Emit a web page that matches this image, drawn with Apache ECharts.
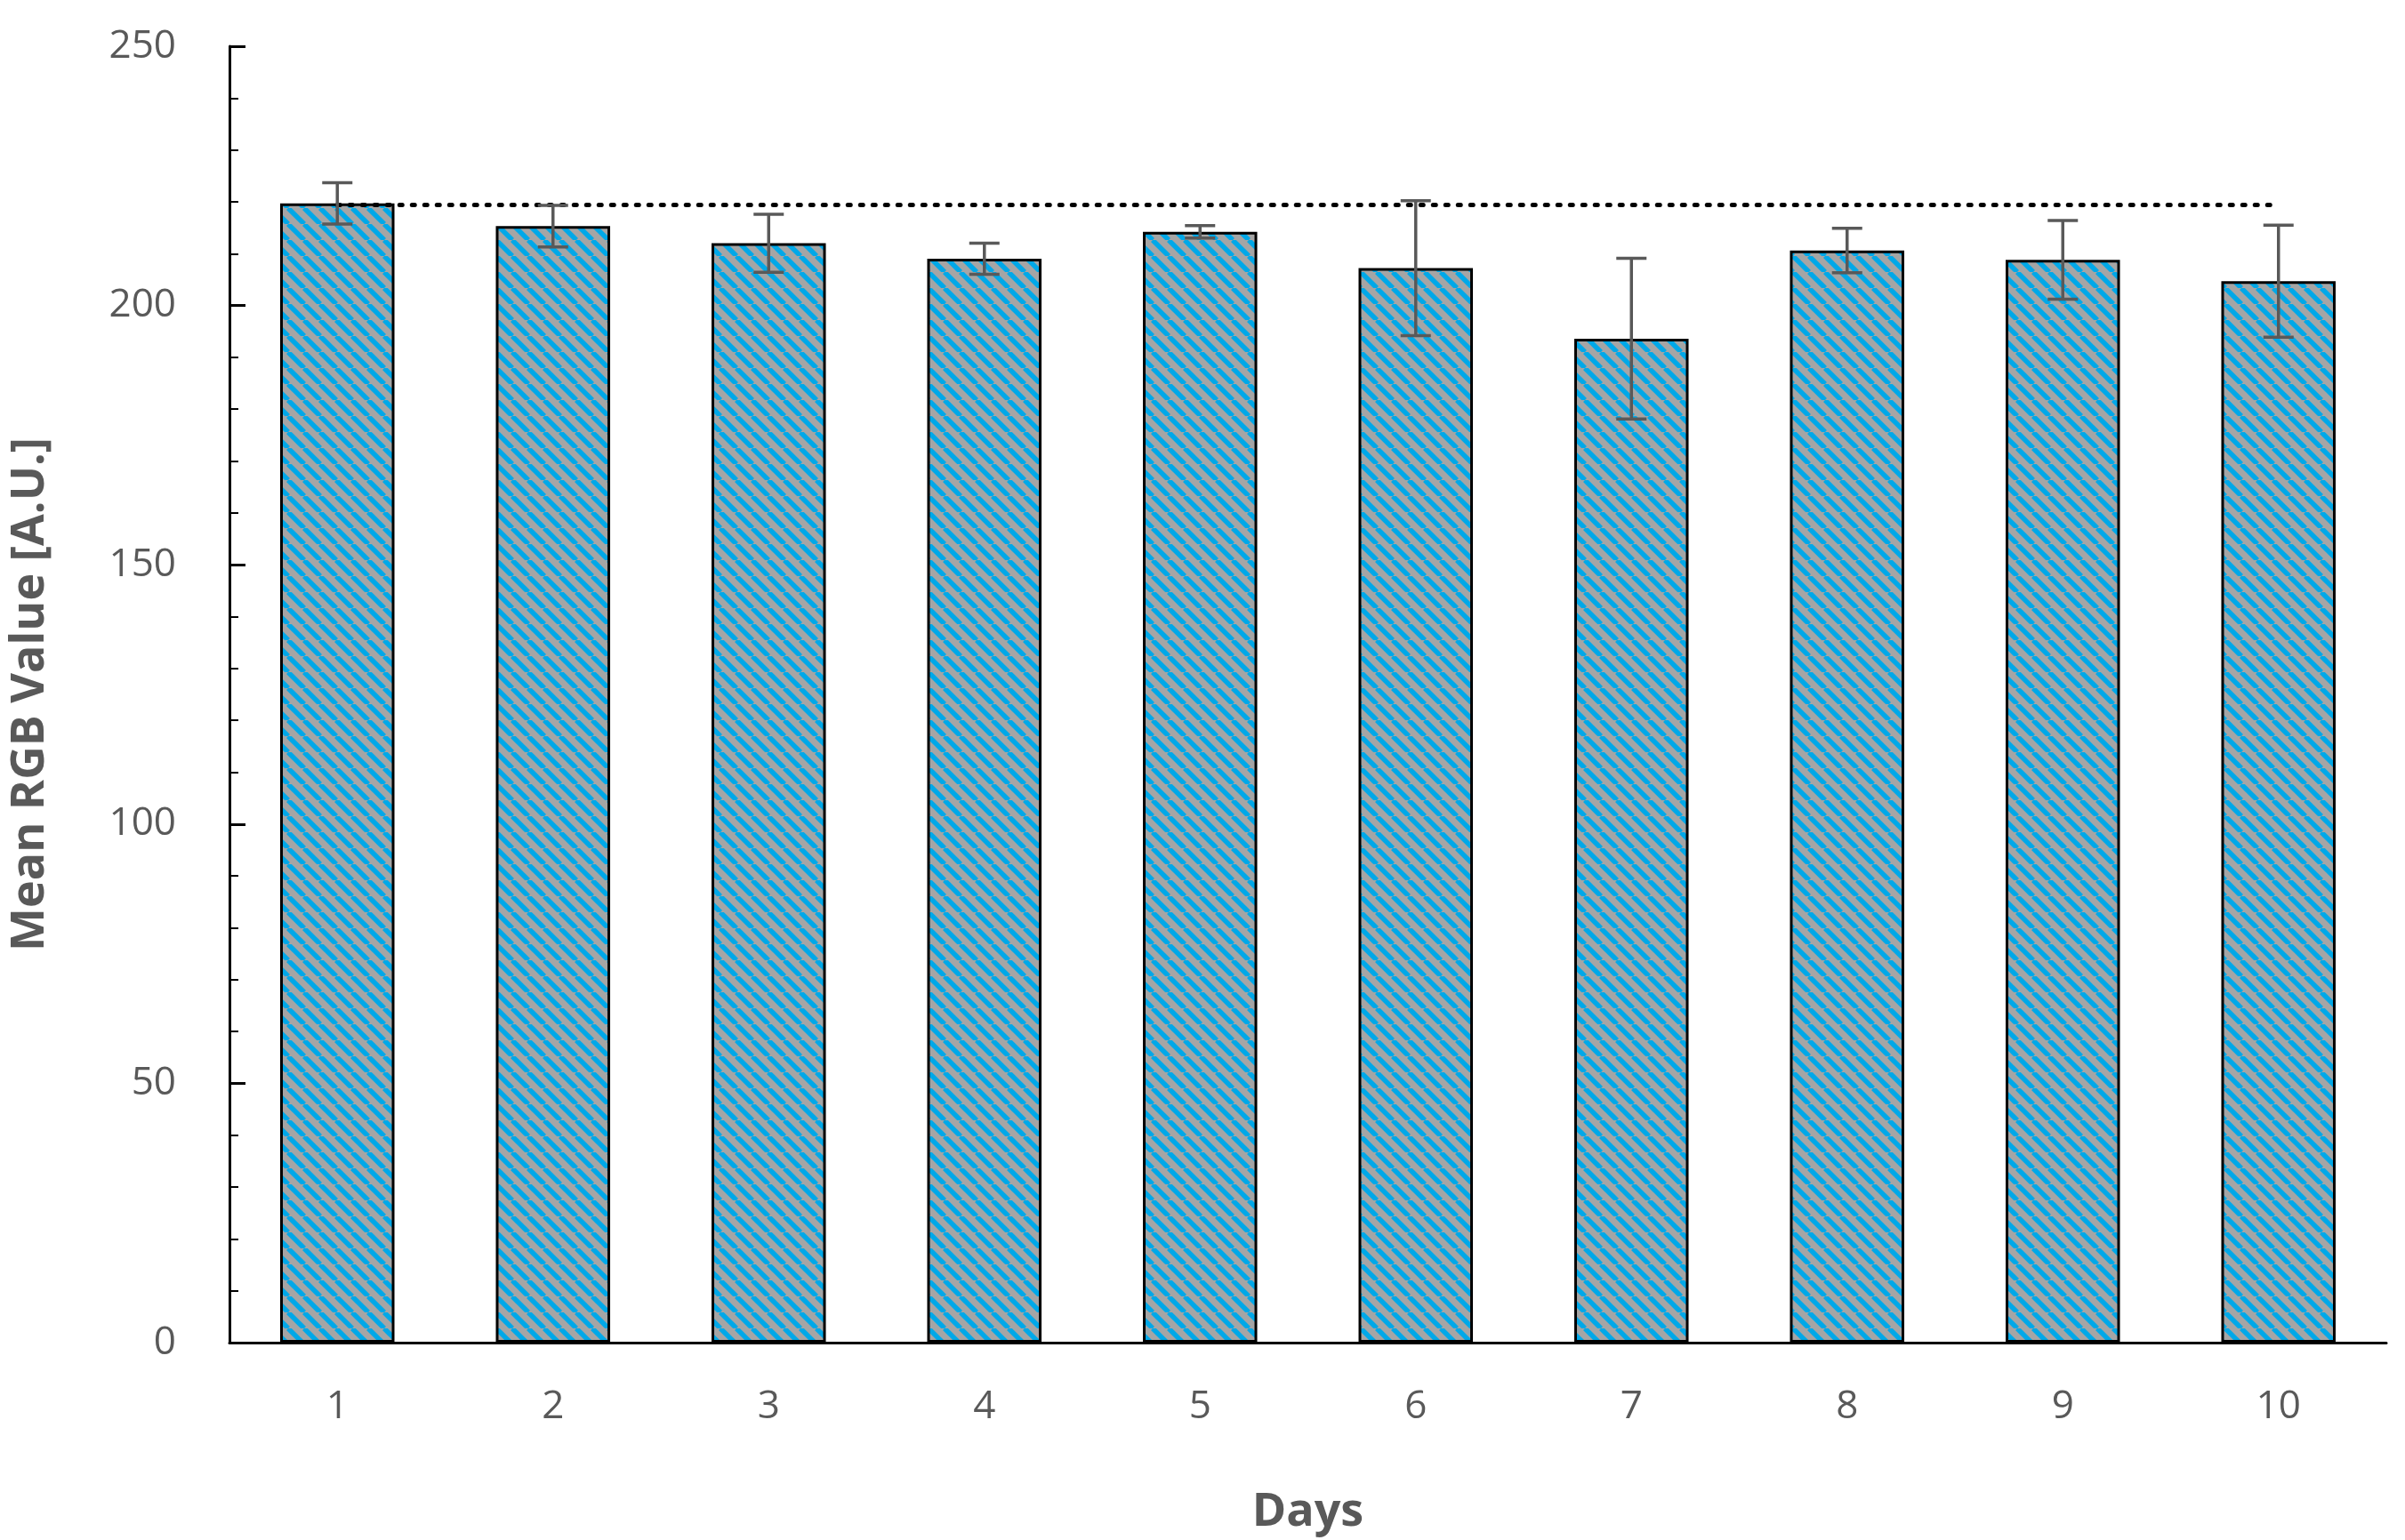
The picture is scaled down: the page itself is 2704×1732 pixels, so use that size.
<!DOCTYPE html>
<html><head><meta charset="utf-8">
<script src="https://cdn.jsdelivr.net/npm/echarts@6/dist/echarts.min.js"></script>
<style>html,body{margin:0;padding:0;background:#fff}#c{width:2704px;height:1732px}</style>
</head><body><div id="c"></div>
<script>
const days = ['1','2','3','4','5','6','7','8','9','10'];
const means = [219.7, 215.3, 212.0, 209.0, 214.2, 207.2, 193.6, 210.6, 208.8, 204.7];
const errs = [4.0, 4.0, 5.6, 3.0, 1.2, 13.0, 15.5, 4.3, 7.6, 10.8];
const refLine = 219.4;

const tile = document.createElement('canvas');
const s = 18; tile.width = s; tile.height = s;
const g = tile.getContext('2d');
g.fillStyle = '#A5A5A5'; g.fillRect(0,0,s,s);
g.strokeStyle = '#00A8E8'; g.lineWidth = 5.5;
for (let k = -1; k <= 1; k++) { g.beginPath(); g.moveTo(k*s, 0); g.lineTo(k*s + s, s); g.stroke(); }

const chart = echarts.init(document.getElementById('c'));
const font = '"Open Sans", sans-serif';
chart.setOption({
  animation: false,
  grid: {left: 253, right: 21, top: 52, bottom: 221},
  xAxis: {
    type: 'category', data: days, name: 'Days', nameLocation: 'middle', nameGap: 165,
    nameTextStyle: {fontFamily: font, fontWeight: 'bold', fontSize: 52, color: '#595959'},
    axisLine: {lineStyle: {color: '#000', width: 3}}, axisTick: {show: false},
    axisLabel: {fontFamily: font, fontSize: 44, color: '#595959', margin: 50}
  },
  yAxis: {
    type: 'value', min: 0, max: 250, interval: 50, name: 'Mean RGB Value [A.U.]',
    nameLocation: 'middle', nameGap: 198,
    nameTextStyle: {fontFamily: font, fontWeight: 'bold', fontSize: 52, color: '#595959'},
    axisLine: {show: true, lineStyle: {color: '#000', width: 3}},
    axisTick: {show: true, inside: true, length: 18, lineStyle: {color: '#000', width: 3}},
    minorTick: {show: true, splitNumber: 5, length: 10, lineStyle: {color: '#000', width: 2}},
    splitLine: {show: false},
    axisLabel: {fontFamily: font, fontSize: 44, color: '#595959', margin: 60}
  },
  series: [
    {type: 'bar', data: means, barWidth: '53%',
     itemStyle: {color: {image: tile, repeat: 'repeat'}, borderColor: '#000', borderWidth: 3},
     markLine: {symbol: 'none', silent: true, label: {show: false},
       lineStyle: {type: [3, 11], color: '#000', width: 5, cap: 'round'},
       data: [[{coord: ['1', refLine]}, {coord: ['10', refLine]}]]}
    },
    {type: 'custom', data: means.map((m, i) => [i, m - errs[i], m + errs[i]]), z: 10,
     renderItem: (p, api) => {
       const lo = api.coord([api.value(0), api.value(1)]);
       const hi = api.coord([api.value(0), api.value(2)]);
       const w = 17, st = {stroke: '#595959', lineWidth: 3.5};
       return {type: 'group', children: [
         {type: 'line', shape: {x1: lo[0], y1: lo[1], x2: hi[0], y2: hi[1]}, style: st},
         {type: 'line', shape: {x1: lo[0]-w, y1: lo[1], x2: lo[0]+w, y2: lo[1]}, style: st},
         {type: 'line', shape: {x1: hi[0]-w, y1: hi[1], x2: hi[0]+w, y2: hi[1]}, style: st}
       ]};
     }}
  ]
});
</script></body></html>
